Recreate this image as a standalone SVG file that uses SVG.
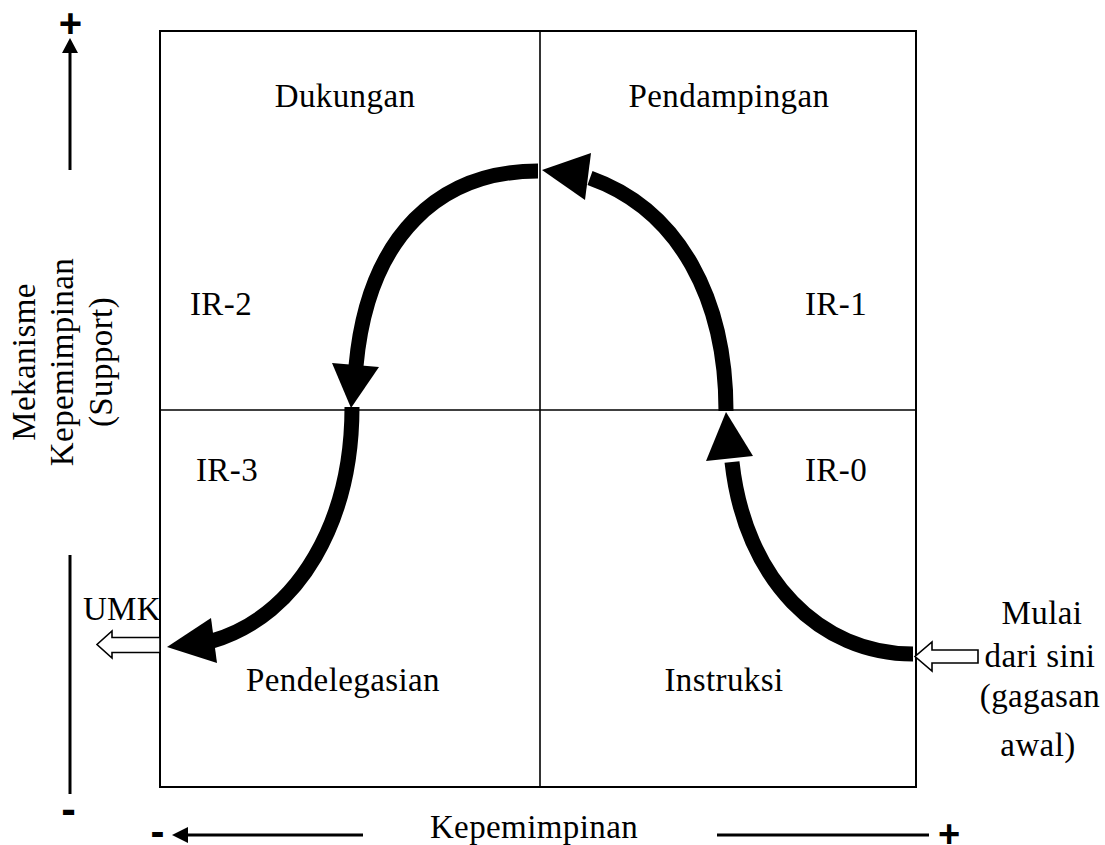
<svg xmlns="http://www.w3.org/2000/svg" width="1105" height="845" viewBox="0 0 1105 845">
<defs>
<style>
.t{font-family:"Liberation Serif","Times New Roman",serif;font-size:33px;fill:#000;text-anchor:middle;letter-spacing:0.4px}
.s{font-family:"Liberation Sans",Arial,sans-serif;font-weight:bold;fill:#000;text-anchor:middle}
.ax{stroke:#000;stroke-width:3;fill:none}
.big{stroke:#000;stroke-width:15;fill:none;stroke-linecap:butt}
.head{fill:#000;stroke:none}
.hollow{fill:#fff;stroke:#000;stroke-width:1.6;stroke-linejoin:miter}
</style>
</defs>
<rect width="1105" height="845" fill="#fff"/>
<g id="frame">
<rect x="160" y="31" width="756" height="756" fill="none" stroke="#000" stroke-width="2"/>
<line x1="540" y1="31" x2="540" y2="787" stroke="#000" stroke-width="1.6"/>
<line x1="160" y1="410" x2="916" y2="410" stroke="#000" stroke-width="1.6"/>
</g>
<g id="axes">
<line class="ax" x1="70" y1="170" x2="70" y2="52"/>
<polygon class="head" points="70,38 62,53 78,53"/>
<text class="s" x="70.5" y="37" font-size="40">+</text>
<line class="ax" x1="70" y1="555" x2="70" y2="794"/>
<text class="s" x="68.5" y="824" font-size="44">-</text>
<line class="ax" x1="363" y1="835" x2="186" y2="835"/>
<polygon class="head" points="172,835 188,827 188,843"/>
<text class="s" x="157.5" y="846" font-size="42">-</text>
<line class="ax" x1="717" y1="835" x2="929" y2="835"/>
<text class="s" x="949" y="847" font-size="38">+</text>
</g>
<g id="labels">
<text class="t" x="345" y="107">Dukungan</text>
<text class="t" x="729" y="107">Pendampingan</text>
<text class="t" x="221" y="315">IR-2</text>
<text class="t" x="836" y="315">IR-1</text>
<text class="t" x="227" y="481">IR-3</text>
<text class="t" x="836" y="481">IR-0</text>
<text class="t" x="122" y="620">UMK</text>
<text class="t" x="343" y="691">Pendelegasian</text>
<text class="t" x="724" y="691">Instruksi</text>
<text class="t" x="534" y="838">Kepemimpinan</text>
</g>
<g id="start-label">
<text class="t" x="1042" y="624">Mulai</text>
<text class="t" x="1040" y="667">dari sini</text>
<text class="t" x="1040" y="707">(gagasan</text>
<text class="t" x="1038" y="756">awal)</text>
</g>
<g id="y-axis-label">
<text class="t" transform="translate(35,362) rotate(-90)">Mekanisme</text>
<text class="t" transform="translate(73,362) rotate(-90)">Kepemimpinan</text>
<text class="t" transform="translate(112,362) rotate(-90)">(Support)</text>
</g>
<g id="connectors">
<path class="big" d="M913,654 C820,654 745,580 732,462"/>
<polygon class="head" points="726,412 706,461 753,456"/>
<path class="big" d="M726,411 C726,300 680,210 590,178"/>
<polygon class="head" points="542,170 591,153 585,200"/>
<path class="big" d="M538,171 C440,171 368,235 356,366"/>
<polygon class="head" points="351,408 332,363 379,367"/>
<path class="big" d="M352,407 C352,520 300,615 212,641"/>
<polygon class="head" points="167,647 211,618 217,663"/>
<polygon class="hollow" points="160,637.5 112,637.5 112,631 97,644.5 112,658 112,652.5 160,652.5"/>
<polygon class="hollow" points="978,650 932,650 932,642 915,656.5 932,671 932,663 978,663 978,650"/>
</g>
</svg>
